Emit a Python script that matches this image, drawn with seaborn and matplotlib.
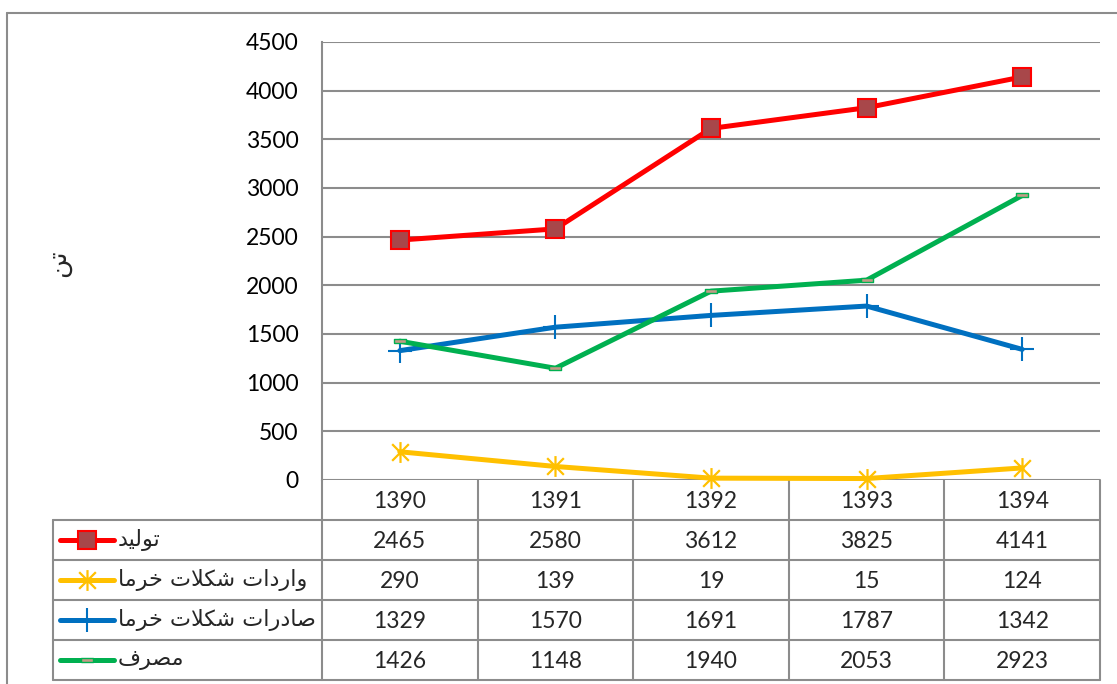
import matplotlib
matplotlib.use('Agg')
import matplotlib.pyplot as plt
import matplotlib.transforms as mtransforms
from matplotlib.path import Path
import seaborn as sns

# داده‌ها
years = ['1390', '1391', '1392', '1393', '1394']
production = [2465, 2580, 3612, 3825, 4141]
imports = [290, 139, 19, 15, 124]
exports = [1329, 1570, 1691, 1787, 1342]
consumption = [1426, 1148, 1940, 2053, 2923]

series_names = ['تولید', 'واردات شکلات خرما', 'صادرات شکلات خرما', 'مصرف']
y_label = 'تن'
y_ticks = [0, 500, 1000, 1500, 2000, 2500, 3000, 3500, 4000, 4500]

# شکل‌دهی ساده حروف فارسی (matplotlib خودش این کار را نمی‌کند)
FORMS = {
    'ا': ('\uFE8D', '\uFE8E', None, None),
    'ت': ('\uFE95', '\uFE96', '\uFE97', '\uFE98'),
    'خ': ('\uFEA5', '\uFEA6', '\uFEA7', '\uFEA8'),
    'د': ('\uFEA9', '\uFEAA', None, None),
    'ر': ('\uFEAD', '\uFEAE', None, None),
    'ش': ('\uFEB5', '\uFEB6', '\uFEB7', '\uFEB8'),
    'ص': ('\uFEB9', '\uFEBA', '\uFEBB', '\uFEBC'),
    'ف': ('\uFED1', '\uFED2', '\uFED3', '\uFED4'),
    'ک': ('\uFB8E', '\uFB8F', '\uFB90', '\uFB91'),
    'ل': ('\uFEDD', '\uFEDE', '\uFEDF', '\uFEE0'),
    'م': ('\uFEE1', '\uFEE2', '\uFEE3', '\uFEE4'),
    'ن': ('\uFEE5', '\uFEE6', '\uFEE7', '\uFEE8'),
    'و': ('\uFEED', '\uFEEE', None, None),
    'ی': ('\uFBFC', '\uFBFD', '\uFEF3', '\uFEF4'),
}


def shape(text):
    # واحدها: حرف یا لام‌الف
    units = []
    i = 0
    while i < len(text):
        ch = text[i]
        if ch == 'ل' and i + 1 < len(text) and text[i + 1] == 'ا':
            units.append('لا')
            i += 2
        else:
            units.append(ch)
            i += 1
    out = []
    for k, u in enumerate(units):
        prev = units[k - 1] if k > 0 else None
        nxt = units[k + 1] if k + 1 < len(units) else None
        prev_joins = prev is not None and prev in FORMS and FORMS[prev][2] is not None
        if u == 'لا':
            out.append('\uFEFC' if prev_joins else '\uFEFB')
            continue
        if u not in FORMS:
            out.append(u)
            continue
        f = FORMS[u]
        next_joins = f[2] is not None and nxt is not None and (nxt in FORMS or nxt == 'لا')
        if prev_joins and next_joins:
            out.append(f[3])
        elif prev_joins:
            out.append(f[1])
        elif next_joins:
            out.append(f[2])
        else:
            out.append(f[0])
    return ''.join(reversed(out))


sns.set_style('white')
plt.rcParams['font.family'] = ['Lato', 'DejaVu Sans']
plt.rcParams['font.size'] = 16

W, H = 1117, 684
fig = plt.figure(figsize=(W / 100, H / 100), dpi=100)
fig.patch.set_facecolor('white')

PL, PR, PT, PB = 322, 1100, 42, 480
ax = fig.add_axes([PL / W, (H - PB) / H, (PR - PL) / W, (PB - PT) / H])

grid_c = '#8c8c8c'
xs = list(range(len(years)))

# ستاره اکسل: خط عمودی + ضربدر
star = Path([(0, -1), (0, 1), (-0.8, -0.8), (0.8, 0.8), (-0.8, 0.8), (0.8, -0.8)],
            [Path.MOVETO, Path.LINETO, Path.MOVETO, Path.LINETO, Path.MOVETO, Path.LINETO])
dash = [(-1, -0.3), (1, -0.3), (1, 0.3), (-1, 0.3), (-1, -0.3)]

styles = [
    dict(color='#FF0000', marker='s', markersize=13, markerfacecolor='#A8474A',
         markeredgecolor='#FF0000', markeredgewidth=1.5),
    dict(color='#FFC000', marker=star, markersize=15,
         markeredgecolor='#FFC000', markeredgewidth=1.6),
    dict(color='#0070C0', marker='+', markersize=17,
         markeredgecolor='#0070C0', markeredgewidth=1.5),
    dict(color='#00B050', marker=dash, markersize=9, markerfacecolor='#C49A86',
         markeredgecolor='#00B050', markeredgewidth=1),
]
all_series = [production, imports, exports, consumption]

for vals, st in zip(all_series, styles):
    sns.lineplot(x=xs, y=vals, ax=ax, linewidth=3.6, clip_on=False, zorder=5, **st)

ax.set_xlim(-0.5, len(years) - 0.5)
ax.set_ylim(0, 4500)
ax.set_yticks(y_ticks)
ax.set_yticklabels([str(t) for t in y_ticks])
ax.set_xticks([])
ax.tick_params(axis='y', length=0, pad=17, labelsize=16.5, colors='black')
ax.yaxis.grid(True, color=grid_c, linewidth=1.5)
ax.set_axisbelow(True)
for s in ['top', 'right', 'bottom']:
    ax.spines[s].set_visible(False)
ax.spines['left'].set_color(grid_c)
ax.spines['left'].set_linewidth(1.5)


def ay(py):
    return (PB - py) / (PB - PT)


def axx(px):
    return (px - PL) / (PR - PL)


blend = mtransforms.blended_transform_factory(ax.transData, ax.transAxes)
line_kw = dict(transform=ax.transAxes, clip_on=False, color=grid_c, linewidth=1.5, zorder=1)

# جدول داده
rows_y = [520, 560, 600, 640, 680]
for py in rows_y:
    ax.plot([axx(53), axx(PR)], [ay(py), ay(py)], **line_kw)
ax.plot([axx(53), axx(53)], [ay(520), ay(680)], **line_kw)
col_w = (PR - PL) / len(years)
for k in range(len(years) + 1):
    px = PL + k * col_w
    ax.plot([axx(px), axx(px)], [ay(PB), ay(680)], **line_kw)

for k, yr in enumerate(years):
    ax.text(k, ay(501), yr, transform=blend, ha='center', va='center', fontsize=16.5)
for r, vals in enumerate(all_series):
    cy = ay(541 + 40 * r)
    for k, v in enumerate(vals):
        ax.text(k, cy, str(v), transform=blend, ha='center', va='center', fontsize=16.5)

# نمونه‌های راهنما در جدول
for r, (name, st) in enumerate(zip(series_names, styles)):
    cy = ay(540 + 40 * r)
    ax.plot([axx(60), axx(87), axx(114)], [cy, cy, cy], transform=ax.transAxes, clip_on=False,
            linewidth=3.6, markevery=[1], zorder=5, **st)
    ax.text(axx(118), cy, shape(name), transform=ax.transAxes, ha='left', va='center',
            fontsize=16, family=['DejaVu Sans'])

# عنوان محور
fig.text(58 / W, 1 - 263 / H, shape(y_label), rotation=90, ha='center', va='center',
         fontsize=19, family=['DejaVu Sans'])

# کادر بیرونی
fig.add_artist(plt.Line2D([7 / W, 7 / W], [0, 1 - 13 / H], color=grid_c, linewidth=1.5))
fig.add_artist(plt.Line2D([7 / W, 1], [1 - 13 / H, 1 - 13 / H], color=grid_c, linewidth=1.5))

fig.savefig('out.png', dpi=100)
